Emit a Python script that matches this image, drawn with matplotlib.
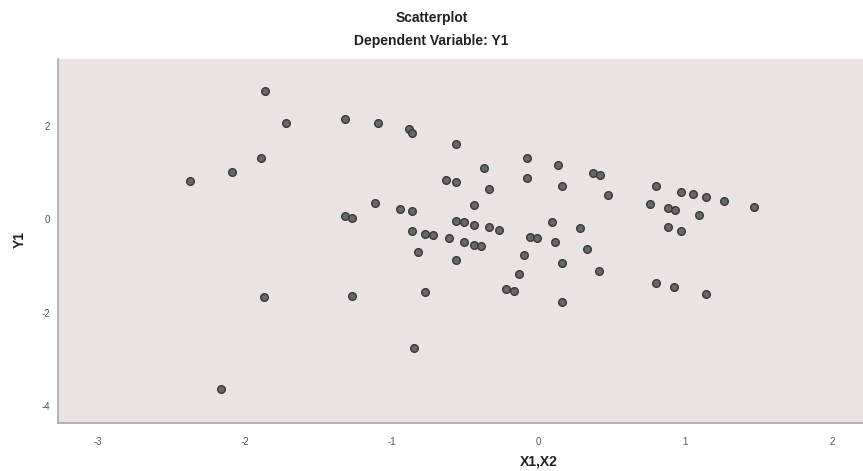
import matplotlib
matplotlib.use("Agg")
import matplotlib.pyplot as plt

plt.rcParams['font.family'] = ['Liberation Sans', 'DejaVu Sans']

title = "Scatterplot"
subtitle = "Dependent Variable: Y1"
x_label = "X1,X2"
y_label = "Y1"

x_vals = [-2.37, -2.16, -2.09, -1.89, -1.87, -1.86, -1.72, -1.32, -1.32, -1.27,
          -1.27, -1.11, -1.09, -0.94, -0.88, -0.86, -0.86, -0.86, -0.85, -0.82,
          -0.77, -0.77, -0.72, -0.63, -0.61, -0.56, -0.56, -0.56, -0.56, -0.51,
          -0.51, -0.44, -0.44, -0.44, -0.39, -0.37, -0.34, -0.34, -0.27, -0.22,
          -0.17, -0.13, -0.10, -0.08, -0.08, -0.06, -0.01, 0.09, 0.11, 0.13,
          0.16, 0.16, 0.16, 0.28, 0.33, 0.37, 0.41, 0.42, 0.47, 0.76,
          0.80, 0.80, 0.88, 0.88, 0.93, 0.92, 0.97, 0.97, 1.05, 1.09,
          1.14, 1.14, 1.26, 1.47]
y_vals = [0.83, -3.63, 1.01, 1.32, -1.66, 2.74, 2.07, 2.15, 0.07, 0.03,
          -1.64, 0.34, 2.07, 0.23, 1.93, 1.84, 0.17, -0.24, -2.76, -0.69,
          -0.32, -1.55, -0.34, 0.85, -0.41, -0.03, 1.62, 0.80, -0.86, -0.06,
          -0.48, 0.30, -0.12, -0.54, -0.57, 1.11, 0.65, -0.17, -0.23, -1.50,
          -1.54, -1.16, -0.76, 1.31, 0.89, -0.37, -0.40, -0.06, -0.49, 1.17,
          0.72, -0.93, -1.76, -0.19, -0.63, 0.99, -1.11, 0.96, 0.52, 0.32,
          0.71, -1.37, 0.24, -0.17, 0.21, -1.45, 0.59, -0.24, 0.54, 0.10,
          0.48, -1.60, 0.40, 0.26]

x_ticks = [-3, -2, -1, 0, 1, 2]
y_ticks = [-4, -2, 0, 2]

fig = plt.figure(figsize=(8.63, 4.71), dpi=100)
ax = fig.add_axes([0.0676, 0.1025, 0.9324, 0.7715])
ax.set_facecolor('#EAE2E3')

ax.scatter(x_vals, y_vals, s=30, facecolor='#686868', edgecolor='#383838',
           linewidths=1.0, zorder=3)

ax.set_xlim(-3.269, 2.209)
ax.set_ylim(-4.355, 3.426)
ax.set_xticks(x_ticks)
ax.set_yticks(y_ticks)
ax.set_xticklabels([str(t) for t in x_ticks])
ax.set_yticklabels([str(t) for t in y_ticks])
ax.tick_params(axis='both', length=0, labelsize=7, colors='#555555', pad=6)
ax.tick_params(axis='x', pad=10)

for side in ['top', 'right']:
    ax.spines[side].set_visible(False)
for side in ['left', 'bottom']:
    ax.spines[side].set_color('#A8A8A8')
    ax.spines[side].set_linewidth(1.2)

fig.text(0.5, 1 - 18 / 471, title, ha='center', va='center', fontsize=10,
         fontweight='bold', color='#222222')
fig.text(0.5, 1 - 41 / 471, subtitle, ha='center', va='center', fontsize=10,
         fontweight='bold', color='#222222')
fig.text(538.5 / 863, 1 - 461 / 471, x_label, ha='center', va='center',
         fontsize=10, fontweight='bold', color='#222222')
fig.text(20 / 863, 1 - 240 / 471, y_label, ha='center', va='center',
         fontsize=10, fontweight='bold', color='#222222', rotation=90)

fig.savefig('out.png', dpi=100)
